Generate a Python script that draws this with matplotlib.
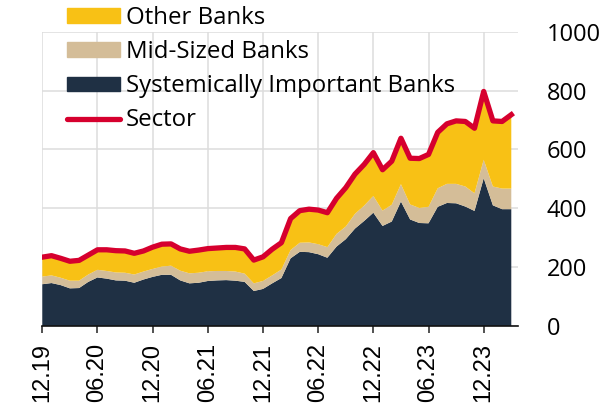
import numpy as np
import matplotlib
matplotlib.use("Agg")
import matplotlib.pyplot as plt
from matplotlib.patches import Patch
from matplotlib.lines import Line2D

# monthly values 12.19 .. 03.24
sib = [142, 146, 139, 128, 129, 150, 165, 161, 155, 154, 147, 158, 167,
       174, 174, 155, 145, 147, 153, 155, 156, 154, 150, 119, 126, 145,
       163, 230, 252, 251, 244, 232, 270, 295, 331, 357, 385, 340, 355,
       423, 362, 350, 349, 405, 418, 417, 406, 391, 502, 410, 397, 397]
mid = [26, 26, 25, 26, 25, 25, 26, 26, 27, 27, 28, 27, 27,
       28, 31, 33, 34, 34, 33, 32, 31, 31, 28, 26, 27, 27,
       29, 28, 31, 33, 34, 36, 43, 43, 50, 52, 57, 52, 57,
       59, 51, 51, 56, 63, 65, 66, 68, 60, 63, 64, 70, 70]
other = [66, 67, 66, 66, 69, 66, 68, 72, 74, 74, 72, 70, 74,
         76, 74, 74, 75, 77, 77, 78, 80, 82, 84, 79, 82, 89,
         91, 107, 109, 113, 116, 117, 121, 132, 135, 140, 147, 139, 148,
         156, 157, 168, 178, 190, 204, 214, 221, 221, 232, 223, 228, 251]
sector = [234, 239, 230, 220, 223, 241, 259, 259, 256, 255, 247, 255, 268,
          278, 279, 262, 254, 258, 263, 265, 267, 267, 262, 224, 235, 261,
          283, 365, 392, 397, 394, 385, 434, 470, 516, 549, 589, 531, 560,
          638, 570, 569, 583, 658, 687, 697, 695, 672, 797, 697, 695, 718]
tick_labels = ["12.19", "06.20", "12.20", "06.21", "12.21",
               "06.22", "12.22", "06.23", "12.23"]

c_sib = "#1f3044"
c_mid = "#d4bd98"
c_oth = "#f8c115"
c_sec = "#d6002e"

x = np.arange(len(sib))

fig = plt.figure(figsize=(6.14, 4.09), dpi=100)
ax = fig.add_axes([0.0689, 0.2029, 0.8432 - 0.0689, 0.9225 - 0.2029])

ax.stackplot(x, sib, mid, other, colors=[c_sib, c_mid, c_oth], lw=0, zorder=2)
ax.plot(x, sector, color=c_sec, lw=3.8, solid_joinstyle="round", zorder=3)

ax.set_xlim(0, 51.7)
ax.set_ylim(0, 1000)
ax.set_xticks(np.arange(0, 49, 6))
ax.set_xticklabels(tick_labels, rotation=90, family="Liberation Sans", fontsize=17)
ax.set_yticks(np.arange(0, 1001, 200))
ax.yaxis.tick_right()
ax.tick_params(axis="y", length=0, pad=21, labelsize=17)
for lab in ax.get_yticklabels():
    lab.set_family("Open Sans")
ax.tick_params(axis="x", length=5, width=1.2, color="#333333", pad=7)

ax.grid(True, color="#dddddd", lw=1.1, zorder=0)
ax.set_axisbelow(True)
for s in ["top", "right", "left"]:
    ax.spines[s].set_visible(False)
ax.spines["bottom"].set_color("#111111")
ax.spines["bottom"].set_linewidth(1.2)
ax.spines["bottom"].set_zorder(4)

handles = [Patch(color=c_oth), Patch(color=c_mid), Patch(color=c_sib),
           Line2D([], [], color=c_sec, lw=3.8, solid_capstyle="round")]
labels = ["Other Banks", "Mid-Sized Banks", "Systemically Important Banks", "Sector"]
fig.legend(handles, labels, loc="upper left", bbox_to_anchor=(0.109, 0.985),
           frameon=False, prop={"family": "Open Sans", "size": 17.3},
           handlelength=2.2, handleheight=0.55, handletextpad=0.25,
           labelspacing=0.42, borderpad=0, borderaxespad=0)

fig.savefig("out.png", dpi=100)
